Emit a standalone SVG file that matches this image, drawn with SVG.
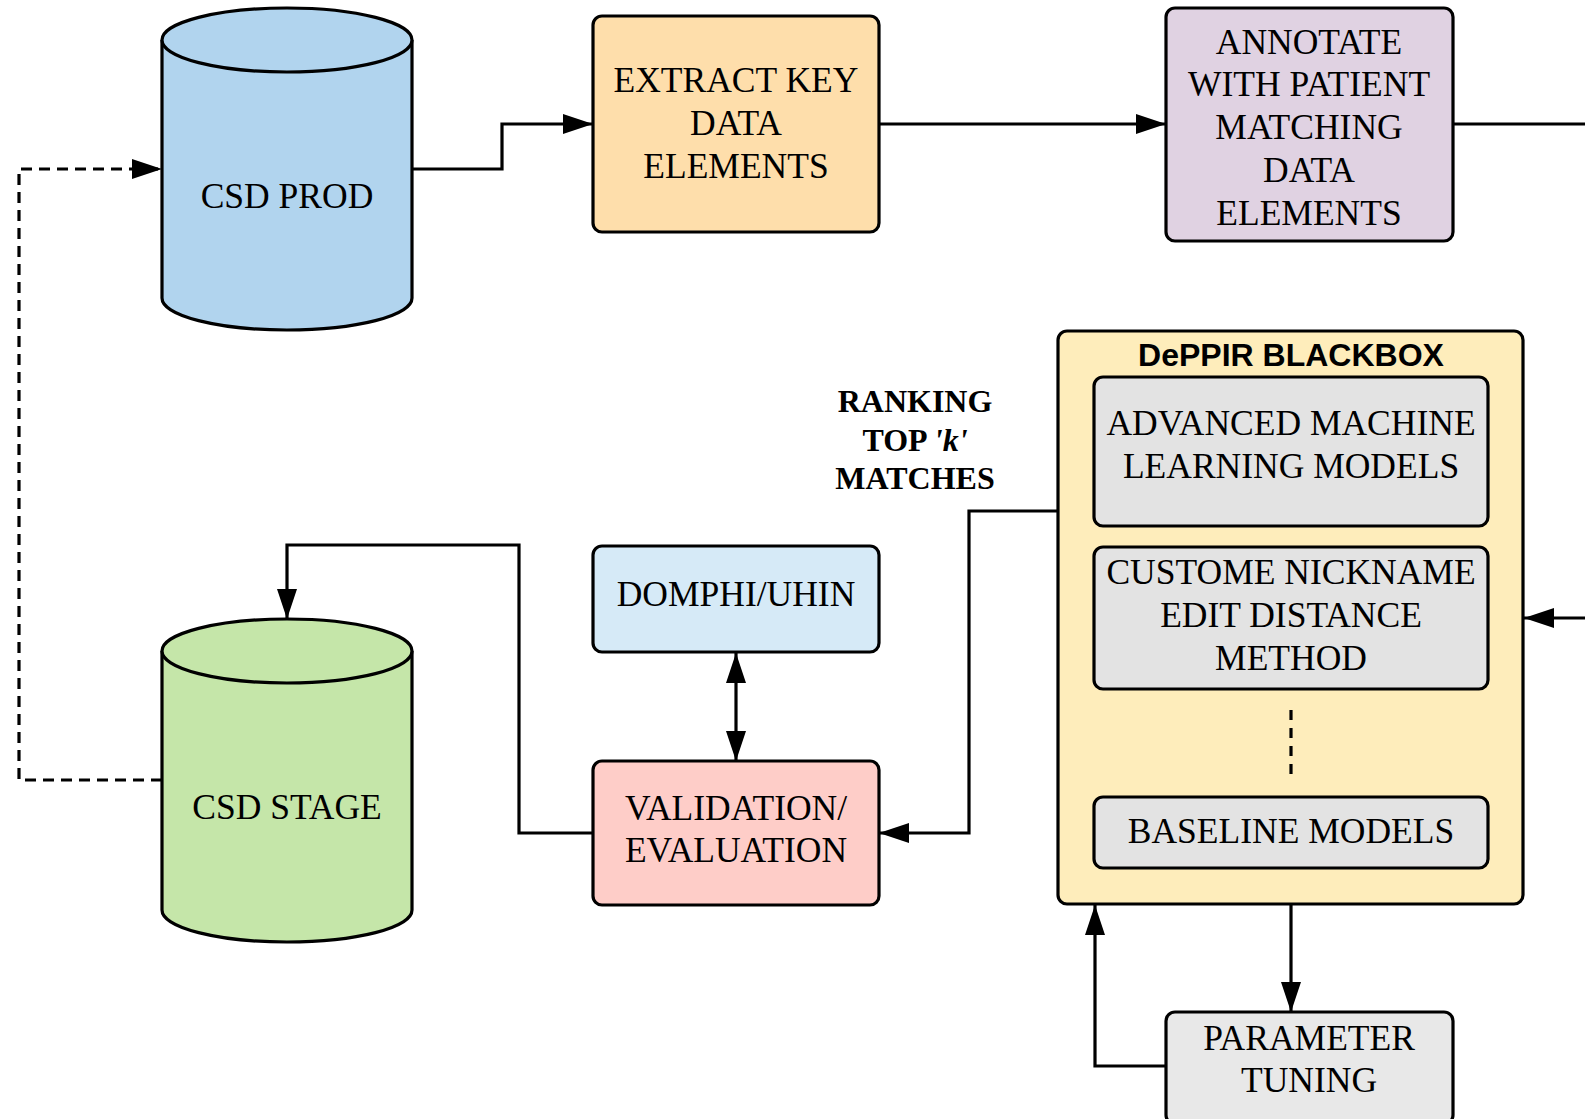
<svg xmlns="http://www.w3.org/2000/svg" width="1585" height="1119" viewBox="0 0 1585 1119">
<defs>
<style>
.n{stroke:#000;stroke-width:3.2}
.t{font-family:"Liberation Serif","Times New Roman",serif;font-size:35.5px;fill:#000;text-anchor:middle;dominant-baseline:central}
.tb{font-family:"Liberation Serif","Times New Roman",serif;font-size:32px;font-weight:bold;fill:#000;text-anchor:middle;dominant-baseline:central}
.ts{font-family:"Liberation Sans",Arial,sans-serif;font-size:32px;font-weight:bold;fill:#000;text-anchor:middle;dominant-baseline:central}
.c{fill:none;stroke:#000;stroke-width:3.2}
.d{stroke-dasharray:11 7}
</style>
<marker id="ah" markerUnits="userSpaceOnUse" markerWidth="31" markerHeight="21" refX="30" refY="10" orient="auto-start-reverse">
<path d="M0,0 L30,10 L0,20 z" fill="#000"/>
</marker>
</defs>
<rect width="1585" height="1119" fill="#fff"/>

<g id="csd-prod">
<path class="n" fill="#b1d4ee" d="M162,40 V298 A125,32 0 0 0 412,298 V40"/>
<ellipse class="n" fill="#b1d4ee" cx="287" cy="40" rx="125" ry="32"/>
<text class="t" x="287" y="196">CSD PROD</text>
</g>

<g id="extract">
<rect class="n" fill="#fedeab" x="593" y="16" width="286" height="216" rx="9"/>
<text class="t" x="736" y="80">EXTRACT KEY</text>
<text class="t" x="736" y="123">DATA</text>
<text class="t" x="736" y="166">ELEMENTS</text>
</g>

<g id="annotate">
<rect class="n" fill="#e0d2e2" x="1166" y="8" width="287" height="233" rx="9"/>
<text class="t" x="1309" y="42">ANNOTATE</text>
<text class="t" x="1309" y="84">WITH PATIENT</text>
<text class="t" x="1309" y="127">MATCHING</text>
<text class="t" x="1309" y="170">DATA</text>
<text class="t" x="1309" y="213">ELEMENTS</text>
</g>

<g id="blackbox">
<rect class="n" fill="#feedbb" x="1058" y="331" width="465" height="573" rx="9"/>
<text class="ts" x="1291" y="355">DePPIR BLACKBOX</text>
<line x1="1291" y1="710" x2="1291" y2="780" stroke="#000" stroke-width="3.2" stroke-dasharray="10 8"/>
</g>

<g id="advanced-ml">
<rect class="n" fill="#e3e3e3" x="1094" y="377" width="394" height="149" rx="9"/>
<text class="t" x="1291" y="423">ADVANCED MACHINE</text>
<text class="t" x="1291" y="466">LEARNING MODELS</text>
</g>

<g id="custome-nickname">
<rect class="n" fill="#e3e3e3" x="1094" y="547" width="394" height="142" rx="9"/>
<text class="t" x="1291" y="572">CUSTOME NICKNAME</text>
<text class="t" x="1291" y="615">EDIT DISTANCE</text>
<text class="t" x="1291" y="658">METHOD</text>
</g>

<g id="baseline">
<rect class="n" fill="#e3e3e3" x="1094" y="797" width="394" height="71" rx="9"/>
<text class="t" x="1291" y="831">BASELINE MODELS</text>
</g>

<g id="ranking-label">
<text class="tb" x="915" y="401">RANKING</text>
<text class="tb" x="915" y="440">TOP <tspan font-style="italic">'k'</tspan></text>
<text class="tb" x="915" y="478">MATCHES</text>
</g>

<g id="domphi">
<rect class="n" fill="#d6eaf7" x="593" y="546" width="286" height="106" rx="9"/>
<text class="t" x="736" y="594">DOMPHI/UHIN</text>
</g>

<g id="validation">
<rect class="n" fill="#fecdc8" x="593" y="761" width="286" height="144" rx="9"/>
<text class="t" x="736" y="808">VALIDATION/</text>
<text class="t" x="736" y="850">EVALUATION</text>
</g>

<g id="csd-stage">
<path class="n" fill="#c5e6a9" d="M162,651 V910 A125,32 0 0 0 412,910 V651"/>
<ellipse class="n" fill="#c5e6a9" cx="287" cy="651" rx="125" ry="32"/>
<text class="t" x="287" y="807">CSD STAGE</text>
</g>

<g id="parameter-tuning">
<rect class="n" fill="#e8e8e8" x="1166" y="1012" width="287" height="112" rx="9"/>
<text class="t" x="1309" y="1038">PARAMETER</text>
<text class="t" x="1309" y="1080">TUNING</text>
</g>

<g id="connectors">
<path class="c d" d="M162,780 H19 V169 H162" marker-end="url(#ah)"/>
<path class="c" d="M412,169 H502 V124 H593" marker-end="url(#ah)"/>
<path class="c" d="M879,124 H1166" marker-end="url(#ah)"/>
<path class="c" d="M1453,124 H1585"/>
<path class="c" d="M1585,618 H1524" marker-end="url(#ah)"/>
<path class="c" d="M1058,511 H969 V833 H879" marker-end="url(#ah)"/>
<path class="c" d="M736,653 V761" marker-start="url(#ah)" marker-end="url(#ah)"/>
<path class="c" d="M593,833 H519 V545 H287 V619" marker-end="url(#ah)"/>
<path class="c" d="M1291,905 V1012" marker-end="url(#ah)"/>
<path class="c" d="M1166,1066 H1095 V905" marker-end="url(#ah)"/>
</g>
</svg>
